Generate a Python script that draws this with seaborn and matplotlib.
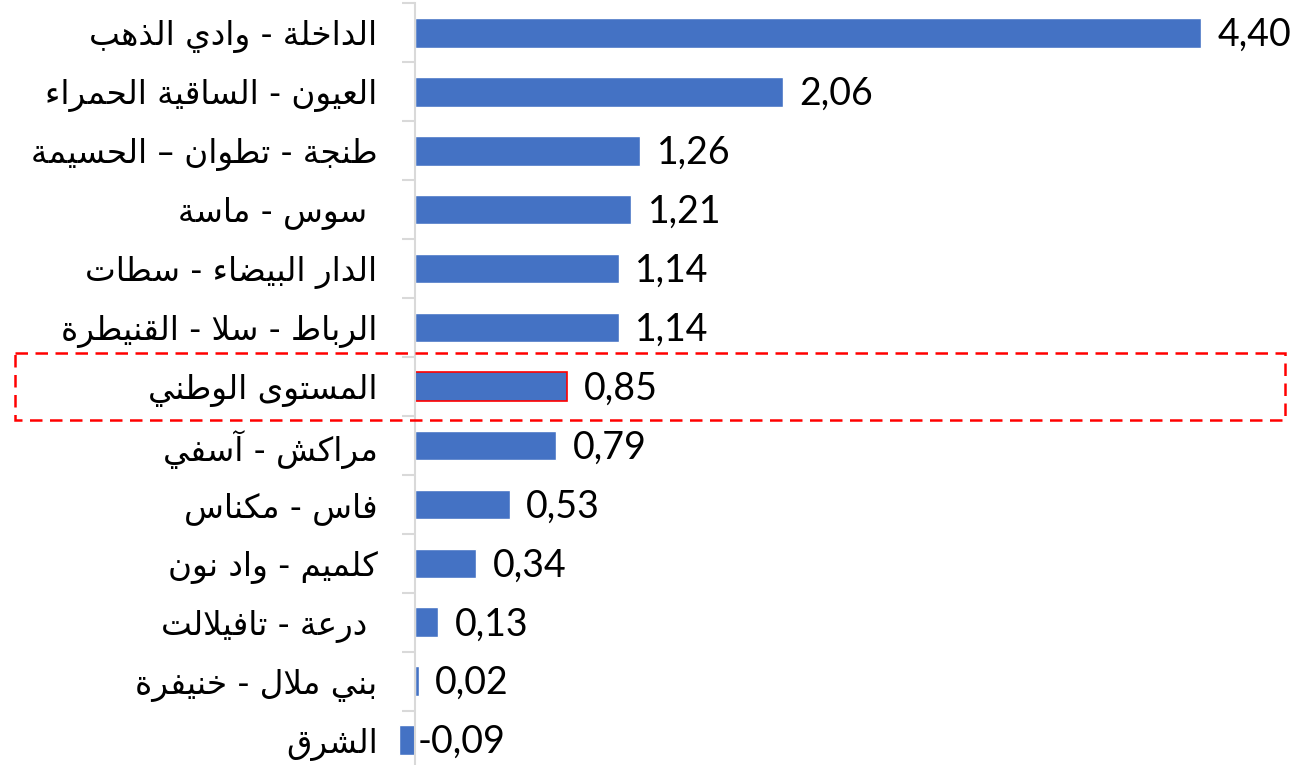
import matplotlib
matplotlib.use("Agg")
import matplotlib.pyplot as plt
import matplotlib.transforms as mtransforms
from matplotlib.patches import Rectangle
import seaborn as sns
import numpy as np

categories = [
    "الداخلة - وادي الذهب",
    "العيون - الساقية الحمراء",
    "طنجة - تطوان – الحسيمة",
    " سوس - ماسة",
    "الدار البيضاء - سطات",
    "الرباط - سلا - القنيطرة",
    "المستوى الوطني",
    "مراكش - آسفي",
    "فاس - مكناس",
    "كلميم - واد نون",
    " درعة - تافيلالت",
    "بني ملال - خنيفرة",
    "الشرق",
]
values = [4.40, 2.06, 1.26, 1.21, 1.14, 1.14, 0.85, 0.79, 0.53, 0.34, 0.13, 0.02, -0.09]
value_labels = ["4,40", "2,06", "1,26", "1,21", "1,14", "1,14", "0,85", "0,79", "0,53", "0,34", "0,13", "0,02", "-0,09"]
highlight = "المستوى الوطني"

# --- minimal Arabic shaping (matplotlib has no complex text layout) ---
DUAL = {'ئ': 0xFE89, 'ب': 0xFE8F, 'ت': 0xFE95, 'ث': 0xFE99, 'ج': 0xFE9D, 'ح': 0xFEA1,
        'خ': 0xFEA5, 'س': 0xFEB1, 'ش': 0xFEB5, 'ص': 0xFEB9, 'ض': 0xFEBD, 'ط': 0xFEC1,
        'ظ': 0xFEC5, 'ع': 0xFEC9, 'غ': 0xFECD, 'ف': 0xFED1, 'ق': 0xFED5, 'ك': 0xFED9,
        'ل': 0xFEDD, 'م': 0xFEE1, 'ن': 0xFEE5, 'ه': 0xFEE9, 'ي': 0xFEF1}
RIGHT = {'آ': 0xFE81, 'أ': 0xFE83, 'ؤ': 0xFE85, 'إ': 0xFE87, 'ا': 0xFE8D, 'ة': 0xFE93,
         'د': 0xFEA9, 'ذ': 0xFEAB, 'ر': 0xFEAD, 'ز': 0xFEAF, 'و': 0xFEED, 'ى': 0xFEEF}
LAMALEF = {'ا': 0xFEFB, 'آ': 0xFEF5, 'أ': 0xFEF7, 'إ': 0xFEF9}


def shape(s):
    toks = []
    i = 0
    while i < len(s):
        c = s[i]
        if c == 'ل' and i + 1 < len(s) and s[i + 1] in LAMALEF:
            toks.append(('R', LAMALEF[s[i + 1]]))
            i += 2
            continue
        if c in DUAL:
            toks.append(('D', DUAL[c]))
        elif c in RIGHT:
            toks.append(('R', RIGHT[c]))
        else:
            toks.append(('U', c))
        i += 1
    out = []
    for k, (t, b) in enumerate(toks):
        if t == 'U':
            out.append(b)
            continue
        prev_j = k > 0 and toks[k - 1][0] == 'D'
        next_j = t == 'D' and k + 1 < len(toks) and toks[k + 1][0] in ('D', 'R')
        if prev_j and next_j:
            cp = b + 3
        elif prev_j:
            cp = b + 1
        elif next_j:
            cp = b + 2
        else:
            cp = b
        out.append(chr(cp))
    return ''.join(reversed(out))


sns.set_theme(style="white")
plt.rcParams['font.family'] = ['DejaVu Sans']

W, H = 1309, 765
fig = plt.figure(figsize=(W / 100, H / 100), dpi=100)
ppu = 178.6  # pixels per unit
x0px = 395
zero_px = 415
ax = fig.add_axes([x0px / W, -4.5 / H, (W - x0px) / W, 766 / H])

bar_color = "#4472C4"
sns.barplot(x=values, y=categories, orient="h", color=bar_color, width=0.5,
            saturation=1, ax=ax, zorder=2)
ax.set_xlim(-(zero_px - x0px) / ppu, (W - zero_px) / ppu)
ax.set_ylim(12.5, -0.5)

hi = categories.index(highlight)
ax.patches[hi].set_edgecolor("#FF0000")
ax.patches[hi].set_linewidth(1.2)

for sp in ["top", "right", "bottom"]:
    ax.spines[sp].set_visible(False)
ax.spines["left"].set_position(("data", 0))
ax.spines["left"].set_color("#D9D9D9")
ax.spines["left"].set_linewidth(1.5)
ax.spines["left"].set_zorder(3)

ax.set_xticks([])
ax.set_xlabel("")
ax.set_ylabel("")
ax.set_yticks(range(len(categories)))
ax.set_yticklabels([shape(c) for c in categories], fontsize=23.5, color="black")
ax.set_yticks(np.arange(-0.5, len(categories) + 0.5, 1), minor=True)
ax.tick_params(axis="y", which="major", left=True, length=0, pad=27)
ax.tick_params(axis="y", which="minor", left=True, length=9.5, width=1.5,
               color="#D9D9D9", direction="out")

for i, (v, lab) in enumerate(zip(values, value_labels)):
    xpos = max(v, 0)
    off = 12 if v >= 0 else 2
    ax.annotate(lab, (xpos, i), xytext=(off, -1.5), textcoords="offset points",
                ha="left", va="center", fontsize=27, family=["Lato", "DejaVu Sans"],
                color="black")

# dashed highlight box around national level row
trans = mtransforms.blended_transform_factory(fig.transFigure, ax.transData)
rect = Rectangle((15 / W, hi - 0.57), (1285 - 15) / W, 1.14, transform=trans,
                 fill=False, edgecolor="#FF0000", linewidth=1.8,
                 linestyle=(0, (5, 3)), clip_on=False, zorder=5)
fig.add_artist(rect)

fig.savefig("out.png", dpi=100)
